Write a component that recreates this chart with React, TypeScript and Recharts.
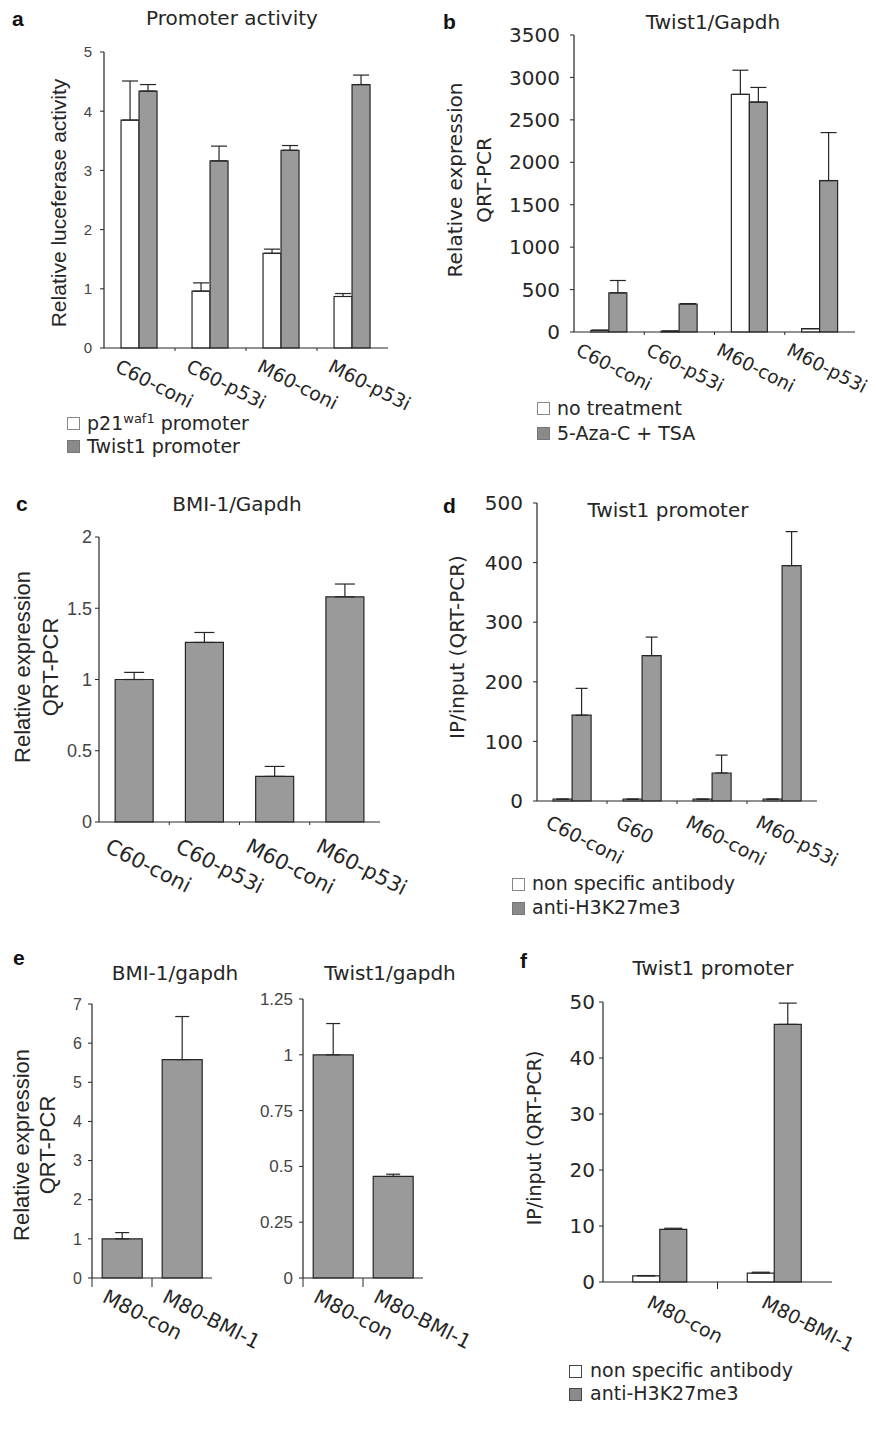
import React from 'react';
import { BarChart, Bar, XAxis, YAxis, ErrorBar } from 'recharts';

const VERD = "'DejaVu Sans', Verdana, sans-serif";
const ARIAL = "'Liberation Sans', Arial, Helvetica, sans-serif";
const GRAY = '#9a9a9a';
const WHITE = '#ffffff';
const INK = '#262626';

// ---------- data ----------
// a: Promoter activity
const catsA = ['C60-coni', 'C60-p53i', 'M60-coni', 'M60-p53i'];
const p21Vals = [3.85, 0.96, 1.6, 0.87];
const p21Err = [0.66, 0.14, 0.07, 0.05];
const twistPromVals = [4.34, 3.16, 3.34, 4.45];
const twistPromErr = [0.11, 0.25, 0.08, 0.16];
const ticksA = [0, 1, 2, 3, 4, 5];

// b: Twist1/Gapdh
const catsB = ['C60-coni', 'C60-p53i', 'M60-coni', 'M60-p53i'];
const noTreatVals = [20, 10, 2800, 40];
const noTreatErr = [0, 0, 285, 0];
const azaVals = [462, 330, 2710, 1785];
const azaErr = [145, 5, 172, 565];
const ticksB = [0, 500, 1000, 1500, 2000, 2500, 3000, 3500];

// c: BMI-1/Gapdh
const catsC = ['C60-coni', 'C60-p53i', 'M60-coni', 'M60-p53i'];
const bmiVals = [1.0, 1.26, 0.32, 1.58];
const bmiErr = [0.05, 0.07, 0.07, 0.09];
const ticksC = [0, 0.5, 1, 1.5, 2];

// d: Twist1 promoter ChIP
const catsD = ['C60-coni', 'G60', 'M60-coni', 'M60-p53i'];
const nonSpecVals = [3, 3, 3, 3];
const nonSpecErr = [0, 0, 0, 0];
const h3kVals = [144, 244, 47, 395];
const h3kErr = [45, 31, 30, 57];
const ticksD = [0, 100, 200, 300, 400, 500];

// e: BMI-1/gapdh and Twist1/gapdh
const catsE = ['M80-con', 'M80-BMI-1'];
const bmiEVals = [1.0, 5.58];
const bmiEErr = [0.16, 1.1];
const ticksE1 = [0, 1, 2, 3, 4, 5, 6, 7];
const twistEVals = [1.0, 0.455];
const twistEErr = [0.14, 0.01];
const ticksE2 = [0, 0.25, 0.5, 0.75, 1, 1.25];

// f: Twist1 promoter ChIP (M80)
const catsF = ['M80-con', 'M80-BMI-1'];
const nonSpecFVals = [1.1, 1.6];
const nonSpecFErr = [0.05, 0.15];
const h3kFVals = [9.4, 46];
const h3kFErr = [0.2, 3.8];
const ticksF = [0, 10, 20, 30, 40, 50];

const rows2 = (cats: string[], v1: number[], e1: number[], v2: number[], e2: number[]) =>
  cats.map((cat, i) => ({ cat, s1: v1[i], e1: [0, e1[i]], s2: v2[i], e2: [0, e2[i]] }));
const rows1 = (cats: string[], v1: number[], e1: number[]) =>
  cats.map((cat, i) => ({ cat, s1: v1[i], e1: [0, e1[i]] }));

const dataA = rows2(catsA, p21Vals, p21Err, twistPromVals, twistPromErr);
const dataB = rows2(catsB, noTreatVals, noTreatErr, azaVals, azaErr);
const dataC = rows1(catsC, bmiVals, bmiErr);
const dataD = rows2(catsD, nonSpecVals, nonSpecErr, h3kVals, h3kErr);
const dataE1 = rows1(catsE, bmiEVals, bmiEErr);
const dataE2 = rows1(catsE, twistEVals, twistEErr);
const dataF = rows2(catsF, nonSpecFVals, nonSpecFErr, h3kFVals, h3kFErr);

type PanelProps = {
  data: any[];
  plot: [number, number, number, number];
  domain: [number, number];
  ticks: number[];
  fills: string[];
  gap: string;
  tFont: string;
  tSize: number;
  tColor: string;
  tMargin: number;
  lSize: number;
  lDx: number;
  lDy: number;
  bLen: number;
  bFirst: boolean;
  capW: number;
};

function Panel(p: PanelProps) {
  const [x0, y0, x1, y1] = p.plot;
  const yw = 80, mt = 16, mr = 60, xh = 110;
  const left = x0 - yw, top = y0 - mt;
  const W = x1 - left + mr, H = y1 - top + xh;
  const band = (x1 - x0) / p.data.length;
  const Tick = (tp: any) => {
    const { x, y, payload, index } = tp;
    const ax = x + p.lDx, ay = y + p.lDy;
    return (
      <g>
        {p.bLen > 0 && (index > 0 || p.bFirst) && (
          <line x1={x - band / 2} x2={x - band / 2} y1={y} y2={y + p.bLen} stroke={INK} strokeWidth={1} />
        )}
        <text x={ax} y={ay} dy="0.75em" transform={`rotate(27 ${ax} ${ay})`} textAnchor="start"
          fontSize={p.lSize} fontFamily={VERD} fill={INK}>{payload.value}</text>
      </g>
    );
  };
  return (
    <div style={{ position: 'absolute', left, top }}>
      <BarChart width={W} height={H} data={p.data} margin={{ top: mt, right: mr, left: 0, bottom: 0 }}
        barCategoryGap={p.gap} barGap={0}>
        <XAxis dataKey="cat" interval={0} tickLine={false} tickSize={0} tickMargin={0} height={xh}
          tick={Tick} axisLine={{ stroke: INK, strokeWidth: 1.2 }} />
        <YAxis type="number" width={yw} domain={p.domain} ticks={p.ticks} interval={0} tickSize={4}
          tickMargin={p.tMargin} tickLine={{ stroke: INK }} axisLine={{ stroke: INK, strokeWidth: 1.2 }}
          tick={{ fontSize: p.tSize, fontFamily: p.tFont, fill: p.tColor }} />
        {p.fills.map((f, i) => (
          <Bar key={i} dataKey={`s${i + 1}`} fill={f} stroke={INK} strokeWidth={1.2} isAnimationActive={false}>
            <ErrorBar dataKey={`e${i + 1}`} width={p.capW} stroke={INK} strokeWidth={1.2} direction="y" />
          </Bar>
        ))}
      </BarChart>
    </div>
  );
}

const VLabel = ({ x, y, text, size, font }: { x: number; y: number; text: string; size: number; font: string }) => (
  <text x={x} y={y} transform={`rotate(-90 ${x} ${y})`} textAnchor="middle" fontSize={size} fontFamily={font} fill={INK}>{text}</text>
);

const Overlay = () => (
  <svg width={876} height={1431} style={{ position: 'absolute', left: 0, top: 0, pointerEvents: 'none' }}>
    {/* panel letters */}
    <g fontFamily={ARIAL} fontWeight="bold" fontSize={21} fill="#111">
      <text x={12} y={26}>a</text>
      <text x={443} y={29}>b</text>
      <text x={16} y={511}>c</text>
      <text x={443} y={513}>d</text>
      <text x={13} y={965}>e</text>
      <text x={520} y={968}>f</text>
    </g>
    {/* titles */}
    <g fontFamily={VERD} fontSize={20} fill={INK} textAnchor="middle">
      <text x={232} y={25}>Promoter activity</text>
      <text x={713} y={29}>Twist1/Gapdh</text>
      <text x={237} y={511}>BMI-1/Gapdh</text>
      <text x={668} y={517}>Twist1 promoter</text>
      <text x={175} y={980}>BMI-1/gapdh</text>
      <text x={390} y={980}>Twist1/gapdh</text>
      <text x={713} y={975}>Twist1 promoter</text>
    </g>
    {/* y axis labels */}
    <VLabel x={66} y={203} text="Relative luceferase activity" size={21} font={ARIAL} />
    <VLabel x={462} y={180} text="Relative expression" size={20} font={VERD} />
    <VLabel x={491} y={180} text="QRT-PCR" size={20} font={VERD} />
    <VLabel x={30} y={667} text="Relative expression" size={22} font={ARIAL} />
    <VLabel x={58} y={667} text="QRT-PCR" size={22} font={ARIAL} />
    <VLabel x={464} y={647} text="IP/input (QRT-PCR)" size={20} font={VERD} />
    <VLabel x={29} y={1145} text="Relative expression" size={22} font={ARIAL} />
    <VLabel x={55} y={1145} text="QRT-PCR" size={22} font={ARIAL} />
    <VLabel x={541} y={1138} text="IP/input (QRT-PCR)" size={19} font={VERD} />
    {/* legends */}
    <g fontFamily={VERD} fontSize={19} fill={INK}>
      <rect x={67.5} y={417.5} width={12} height={12} fill={WHITE} stroke="#888" />
      <text x={87} y={430}>p21<tspan dy={-7} fontSize={13}>waf1</tspan><tspan dy={7}> promoter</tspan></text>
      <rect x={67.5} y={440.5} width={12} height={12} fill="#8a8a8a" stroke="#777" />
      <text x={87} y={453}>Twist1 promoter</text>

      <rect x={537.5} y={402.5} width={12} height={12} fill={WHITE} stroke="#888" />
      <text x={557} y={415}>no treatment</text>
      <rect x={537.5} y={427.5} width={12} height={12} fill="#8a8a8a" stroke="#777" />
      <text x={557} y={440}>5-Aza-C + TSA</text>

      <rect x={512.5} y={878.5} width={12} height={12} fill={WHITE} stroke="#888" />
      <text x={532} y={890}>non specific antibody</text>
      <rect x={512.5} y={902.5} width={12} height={12} fill="#8a8a8a" stroke="#777" />
      <text x={532} y={914}>anti-H3K27me3</text>

      <rect x={569.5} y={1365.5} width={12} height={12} fill={WHITE} stroke="#444" />
      <text x={590} y={1377}>non specific antibody</text>
      <rect x={569.5} y={1388.5} width={12} height={12} fill="#8a8a8a" stroke="#444" />
      <text x={590} y={1400}>anti-H3K27me3</text>
    </g>
  </svg>
);

export default function App() {
  return (
    <div style={{ position: 'absolute', left: 0, top: 0, width: 876, height: 1431, background: '#fff', overflow: 'hidden' }}>
      <Panel data={dataA} plot={[104, 52, 388, 348]} domain={[0, 5]} ticks={ticksA} fills={[WHITE, GRAY]} gap="24%"
        tFont={ARIAL} tSize={15} tColor="#444" tMargin={8} lSize={19} lDx={-19} lDy={10} bLen={3} bFirst={false} capW={8} />
      <Panel data={dataB} plot={[574, 35, 855, 332]} domain={[0, 3500]} ticks={ticksB} fills={[WHITE, GRAY]} gap="24%"
        tFont={VERD} tSize={20} tColor={INK} tMargin={10} lSize={18.5} lDx={-28} lDy={10} bLen={3} bFirst={false} capW={8} />
      <Panel data={dataC} plot={[99, 537, 380, 822]} domain={[0, 2]} ticks={ticksC} fills={[GRAY]} gap="23%"
        tFont={ARIAL} tSize={18} tColor="#444" tMargin={3} lSize={21} lDx={-23} lDy={15} bLen={3} bFirst={false} capW={10} />
      <Panel data={dataD} plot={[537, 503, 817, 801]} domain={[0, 500]} ticks={ticksD} fills={[WHITE, GRAY]} gap="23%"
        tFont={VERD} tSize={20} tColor={INK} tMargin={10} lSize={19} lDx={-21} lDy={13} bLen={3} bFirst={false} capW={6} />
      <Panel data={dataE1} plot={[92, 1004, 212, 1278]} domain={[0, 7]} ticks={ticksE1} fills={[GRAY]} gap="17%"
        tFont={ARIAL} tSize={16} tColor="#444" tMargin={6} lSize={20} lDx={-14} lDy={10} bLen={9} bFirst={true} capW={7} />
      <Panel data={dataE2} plot={[303, 999, 423, 1278]} domain={[0, 1.25]} ticks={ticksE2} fills={[GRAY]} gap="17%"
        tFont={ARIAL} tSize={17} tColor="#444" tMargin={6} lSize={20} lDx={-14} lDy={10} bLen={9} bFirst={true} capW={7} />
      <Panel data={dataF} plot={[603, 1002, 832, 1282]} domain={[0, 50]} ticks={ticksF} fills={[WHITE, GRAY]} gap="26%"
        tFont={VERD} tSize={20} tColor={INK} tMargin={4} lSize={19} lDx={-8} lDy={12} bLen={7} bFirst={false} capW={9} />
      <Overlay />
    </div>
  );
}
